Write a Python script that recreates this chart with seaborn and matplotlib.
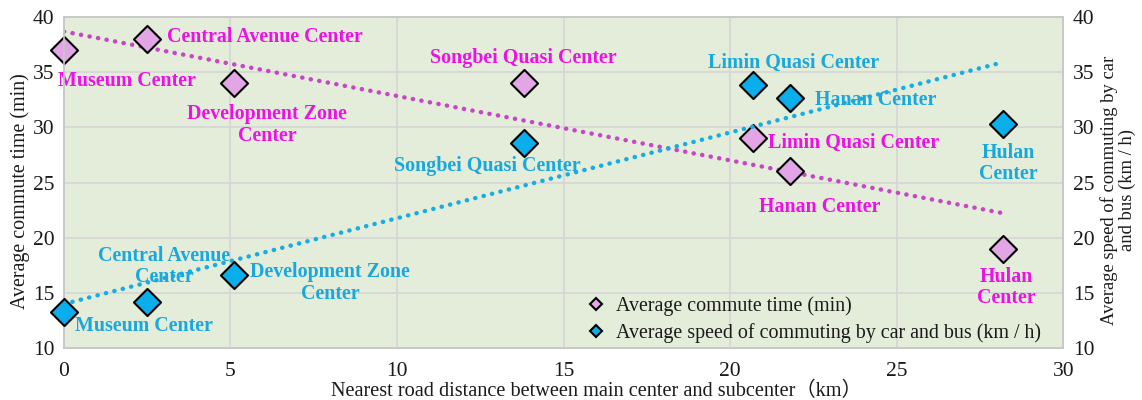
import numpy as np
import pandas as pd
import matplotlib
matplotlib.use("Agg")
import matplotlib.pyplot as plt
from matplotlib.lines import Line2D
import seaborn as sns

# Distance of each subcenter from the main center (km)
distance_km = [0.0, 2.5, 5.1, 13.8, 20.7, 21.8, 28.2]
centers = ["Museum Center", "Central Avenue Center", "Development Zone Center",
           "Songbei Quasi Center", "Limin Quasi Center", "Hanan Center", "Hulan Center"]
commute_time_min = [37, 38, 34, 34, 29, 26, 19]
speed_kmh = [13.3, 14.2, 16.6, 28.6, 33.8, 32.7, 30.3]

x_ticks = [0, 5, 10, 15, 20, 25, 30]
y_ticks = [10, 15, 20, 25, 30, 35, 40]

# Label anchors (data coords) for the point names
time_labels = [
    ("Museum Center", 1.9, 34.2, "center"),
    ("Central Avenue Center", 3.1, 38.2, "left"),
    ("Development Zone\nCenter", 6.1, 30.2, "center"),
    ("Songbei Quasi Center", 13.8, 36.3, "center"),
    ("Limin Quasi Center", 21.15, 28.6, "left"),
    ("Hanan Center", 22.7, 22.8, "center"),
    ("Hulan\nCenter", 28.3, 15.5, "center"),
]
speed_labels = [
    ("Museum Center", 2.4, 12.0, "center"),
    ("Central Avenue\nCenter", 3.0, 17.4, "center"),
    ("Development Zone\nCenter", 8.0, 15.9, "center"),
    ("Songbei Quasi Center", 12.7, 26.5, "center"),
    ("Limin Quasi Center", 21.9, 35.8, "center"),
    ("Hanan Center", 22.55, 32.5, "left"),
    ("Hulan\nCenter", 28.35, 26.7, "center"),
]

df = pd.DataFrame({"distance": distance_km, "time": commute_time_min,
                   "speed": speed_kmh, "center": centers})

sns.set_theme(style="white")
plt.rcParams["font.family"] = ["Liberation Serif", "Noto Sans CJK SC"]

PINK_FILL = "#E2A6E6"
PINK_TEXT = "#EE11E6"
PINK_LINE = "#C844C8"
BLUE_FILL = "#0AAEEA"
BLUE_TEXT = "#19A8DE"
BLUE_LINE = "#16ACE4"
BG = "#E3EDD9"
GRID = "#D6D6D6"
INK = "#1a1a1a"

fig = plt.figure(figsize=(11.42, 4.0), dpi=100)
ax = fig.add_axes([0.056, 0.13, 0.875, 0.8275])
ax2 = ax.twinx()
ax.set_facecolor(BG)
ax2.patch.set_visible(False)

dot = (0, (0.05, 1.9))

# Trend lines (least-squares fit over the data range)
sns.regplot(data=df, x="distance", y="time", ax=ax, ci=None, scatter=False,
            truncate=True,
            line_kws=dict(color=PINK_LINE, linewidth=3.2, linestyle=dot,
                          dash_capstyle="round", zorder=2))
sns.regplot(data=df, x="distance", y="speed", ax=ax2, ci=None, scatter=False,
            truncate=True,
            line_kws=dict(color=BLUE_LINE, linewidth=3.2, linestyle=dot,
                          dash_capstyle="round", zorder=2))

sns.scatterplot(data=df, x="distance", y="time", ax=ax, marker="D", s=190,
                color=PINK_FILL, edgecolor="black", linewidth=1.5, zorder=4,
                legend=False, clip_on=False)
sns.scatterplot(data=df, x="distance", y="speed", ax=ax2, marker="D", s=190,
                color=BLUE_FILL, edgecolor="black", linewidth=1.5, zorder=4,
                legend=False, clip_on=False)

for txt, x, y, ha in time_labels:
    ax.text(x, y, txt, color=PINK_TEXT, fontsize=14.4, fontweight="bold",
            ha=ha, va="center", linespacing=1.1, zorder=5)
for txt, x, y, ha in speed_labels:
    ax2.text(x, y, txt, color=BLUE_TEXT, fontsize=14.4, fontweight="bold",
             ha=ha, va="center", linespacing=1.1, zorder=5)

for a in (ax, ax2):
    a.set_xlim(0, 30)
    a.set_ylim(10, 40)
    a.set_yticks(y_ticks)
    a.tick_params(axis="both", labelsize=15.5, length=0, pad=7, colors=INK)
    for s in a.spines.values():
        s.set_color("#C8C8C8")
        s.set_linewidth(1.2)
ax.tick_params(axis="x", pad=10)
ax.set_xticks(x_ticks)
ax.grid(True, color=GRID, linewidth=1.2)
ax.set_axisbelow(True)

ax.set_xlabel("Nearest road distance between main center and subcenter（km）",
              fontsize=14.6, color=INK)
ax.xaxis.label.set_va("center")
ax.xaxis.set_label_coords(0.533, -0.13)
ax.set_ylabel("Average commute time (min)", fontsize=14.4, color=INK)
ax.yaxis.label.set_va("center")
ax.yaxis.set_label_coords(-0.044, 0.475)
ax2.set_ylabel("Average speed of commuting by car\nand bus (km / h)",
               fontsize=13.4, linespacing=1.05, color=INK)
ax2.yaxis.label.set_va("center")
ax2.yaxis.set_label_coords(1.055, 0.477)
ax2.set_xlabel("")

handles = [
    Line2D([], [], marker="D", linestyle="none", markersize=6.2,
           markerfacecolor=PINK_FILL, markeredgecolor="black", markeredgewidth=1.5),
    Line2D([], [], marker="D", linestyle="none", markersize=6.2,
           markerfacecolor=BLUE_FILL, markeredgecolor="black", markeredgewidth=1.5),
]
ax2.legend(handles, ["Average commute time (min)",
                     "Average speed of commuting by car and bus (km / h)"],
           loc="lower right", bbox_to_anchor=(0.988, -0.015), frameon=False,
           fontsize=14.4, handletextpad=0.4, handlelength=1.2,
           labelspacing=0.35, borderaxespad=0.1, labelcolor=INK)

fig.savefig("out.png", dpi=100)
